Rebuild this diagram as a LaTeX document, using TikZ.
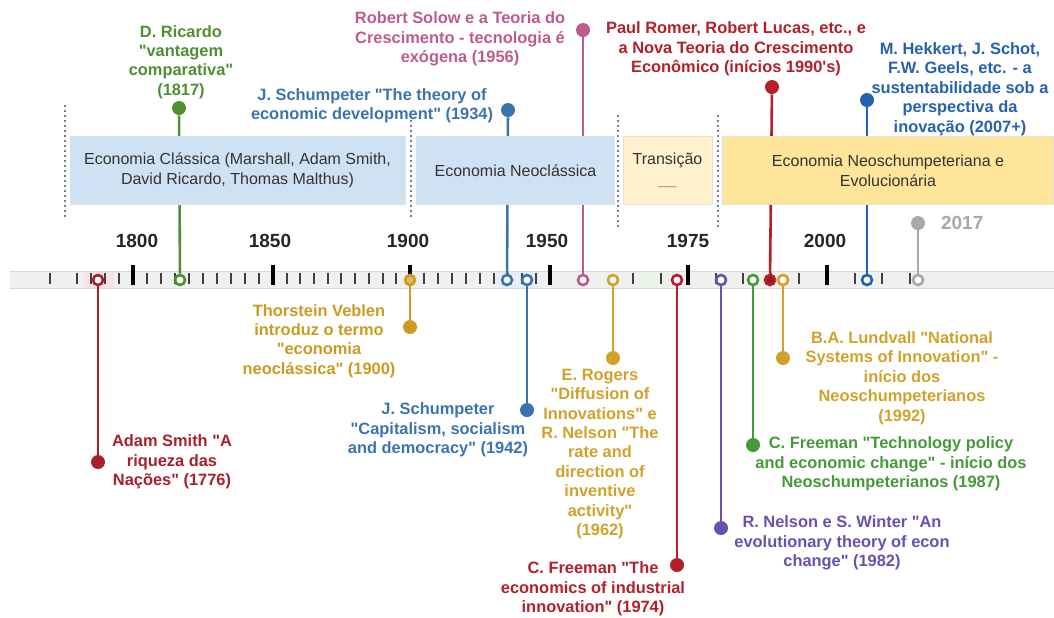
\documentclass[tikz,border=0pt]{standalone}
\usepackage{fontspec}
\setmainfont{Liberation Sans}[Ligatures=TeXOff]
\definecolor{ricardo}{HTML}{4F8F32}
\definecolor{schump}{HTML}{3B73B0}
\definecolor{solow}{HTML}{BF5A8F}
\definecolor{romer}{HTML}{B3202A}
\definecolor{hekkert}{HTML}{2462AE}
\definecolor{later}{HTML}{A8A8A8}
\definecolor{smith}{HTML}{A8202A}
\definecolor{veblen}{HTML}{CC9A1E}
\definecolor{rogers}{HTML}{D1A12A}
\definecolor{nelson}{HTML}{6A4FB0}
\definecolor{freeman}{HTML}{46993A}
\definecolor{boxblue}{HTML}{CFE2F3}
\definecolor{boxcream}{HTML}{FFF2CC}
\definecolor{boxyellow}{HTML}{FFE59A}
\definecolor{slate}{HTML}{6F7F96}
\tikzset{
  evt/.style={font=\fontsize{8.2}{9.7}\selectfont\bfseries, align=center, text=#1, inner sep=0pt},
  pin/.style={circle, fill=#1, inner sep=0pt, minimum size=7pt},
  ring/.style={circle, draw=#1, fill=white, line width=1.3pt, inner sep=0pt, minimum size=5pt},
  stem/.style={draw=#1, line width=1.3pt},
  era/.style={fill=#1, draw=black!12, line width=0.4pt, inner sep=0pt, align=center,
    minimum height=34pt, font=\fontsize{8}{10}\selectfont, text=black!80},
  yearlbl/.style={font=\fontsize{9.5}{11}\selectfont\bfseries, text=black!85},
  divider/.style={draw=slate, line width=0.9pt, dash pattern=on 1pt off 1.5pt},
  minortick/.style={draw=black!75, line width=1pt},
  majortick/.style={draw=black, line width=1.6pt},
}
\begin{document}
\begin{tikzpicture}[x=0.5pt, y=-0.5pt]
  \useasboundingbox (0,0) rectangle (1054,617);
  % axis band
  \fill[black!6] (10,271) rectangle (1054,288);
  \fill[smith!12] (84,271) rectangle (114,288);
  \fill[schump!12] (494,271) rectangle (538,288);
  \fill[freeman!12] (638,271) rectangle (668,288);
  \draw[black!15, line width=0.5pt] (10,271) -- (1054,271) (10,288) -- (1054,288);
  \foreach \x in {50,77,91,105,119,147,161,175,189,203,217,231,245,259,
                  287,300,314,328,341,355,369,383,396,424,438,452,466,480,494,508,522,536,
                  633,661,716,743,771,799,855,882,910}
    \draw[minortick] (\x,273) -- (\x,284);
  \foreach \x in {133,273,410,550,688,827}
    \draw[majortick] (\x,265) -- (\x,285);
  % years
  \node[yearlbl] (y1800) at (137,241) {1800};
  \node[yearlbl] (y1850) at (270,241) {1850};
  \node[yearlbl] (y1900) at (408,241) {1900};
  \node[yearlbl] (y1950) at (547,241) {1950};
  \node[yearlbl] (y1975) at (688,241) {1975};
  \node[yearlbl] (y2000) at (825,241) {2000};
  % markers on the axis and pin heads
  \node[ring=smith] (smithRing) at (98,280) {};
  \node[ring=ricardo] (ricardoRing) at (180,280) {};
  \node[ring=veblen, fill=veblen!70] (veblenRing) at (410,280) {};
  \node[ring=schump] (schumpARing) at (507,280) {};
  \node[ring=schump] (schumpBRing) at (527,280) {};
  \node[ring=solow] (solowRing) at (583,280) {};
  \node[ring=rogers] (rogersRing) at (613,280) {};
  \node[ring=romer] (freemanARing) at (677,280) {};
  \node[ring=nelson] (nelsonRing) at (721,280) {};
  \node[ring=freeman] (freemanBRing) at (753,280) {};
  \node[ring=romer, fill=romer!85!black] (romerRing) at (770,280) {};
  \node[ring=rogers] (lundvallRing) at (783,280) {};
  \node[ring=hekkert] (hekkertRing) at (867,280) {};
  \node[ring=later] (laterRing) at (918,280) {};
  \node[pin=smith] (smithPin) at (98,462) {};
  \node[pin=ricardo] (ricardoPin) at (179,108) {};
  \node[pin=veblen] (veblenPin) at (410,327) {};
  \node[pin=schump] (schumpAPin) at (508,110) {};
  \node[pin=schump] (schumpBPin) at (527,410) {};
  \node[pin=solow] (solowPin) at (583,30) {};
  \node[pin=rogers] (rogersPin) at (613,358) {};
  \node[pin=romer] (freemanAPin) at (677,565) {};
  \node[pin=nelson] (nelsonPin) at (721,528) {};
  \node[pin=freeman] (freemanBPin) at (753,445) {};
  \node[pin=romer] (romerPin) at (772,87) {};
  \node[pin=rogers] (lundvallPin) at (783,358) {};
  \node[pin=hekkert] (hekkertPin) at (867,100) {};
  \node[pin=later] (laterPin) at (918,223) {};
  \begin{scope}
    \draw[stem=smith] (smithRing) to (smithPin);
    \draw[stem=ricardo] (ricardoRing) to (ricardoPin);
    \draw[stem=veblen] (veblenRing) to (veblenPin);
    \draw[stem=schump] (schumpARing) to (schumpAPin);
    \draw[stem=schump] (schumpBRing) to (schumpBPin);
    \draw[stem=solow] (solowRing) to (solowPin);
    \draw[stem=rogers] (rogersRing) to (rogersPin);
    \draw[stem=romer] (freemanARing) to (freemanAPin);
    \draw[stem=nelson] (nelsonRing) to (nelsonPin);
    \draw[stem=freeman] (freemanBRing) to (freemanBPin);
    \draw[stem=romer] (romerRing) to (romerPin);
    \draw[stem=rogers] (lundvallRing) to (lundvallPin);
    \draw[stem=hekkert] (hekkertRing) to (hekkertPin);
    \draw[stem=later] (laterRing) to (laterPin);
  \end{scope}
  % periods
  \node[era=boxblue, minimum width=167.5pt] (classica) at (237.5,170.5)
    {Economia Clássica (Marshall, Adam Smith,\\David Ricardo, Thomas Malthus)};
  \node[era=boxblue, minimum width=99pt] (neoclassica) at (515.5,170.5) {Economia Neoclássica};
  \node[era=boxcream, minimum width=44.5pt] (transicao) at (667.5,170.5)
    {Transição\\{\color{black!40}\_\_}};
  \node[era=boxyellow, minimum width=165.5pt] (neoschump) at (888,170.5)
    {Economia Neoschumpeteriana e\\Evolucionária};
  \draw[divider] (65,105) -- (65,218);
  \draw[divider] (411,120) -- (411,218);
  \draw[divider] (618,115) -- (618,228);
  \draw[divider] (718,115) -- (718,228);
  % labels
  \node[evt=ricardo] (ricardoText) at (181,62) {D. Ricardo\\"vantagem\\comparativa"\\(1817)};
  \node[evt=schump] (schumpAText) at (372,106) {J. Schumpeter "The theory of\\economic development" (1934)};
  \node[evt=solow] (solowText) at (460,39) {Robert Solow e a Teoria do\\Crescimento - tecnologia é\\exógena (1956)};
  \node[evt=romer] (romerText) at (736,49) {Paul Romer, Robert Lucas, etc., e\\a Nova Teoria do Crescimento\\Econômico (inícios 1990's)};
  \node[evt=hekkert] (hekkertText) at (960,89) {M. Hekkert, J. Schot,\\F.W. Geels, etc. - a\\sustentabilidade sob a\\perspectiva da\\inovação (2007+)};
  \node[yearlbl, text=later, anchor=west] (laterText) at (934,223) {2017};
  \node[evt=smith] (smithText) at (172,462) {Adam Smith "A\\riqueza das\\Nações" (1776)};
  \node[evt=veblen] (veblenText) at (319,341) {Thorstein Veblen\\introduz o termo\\"economia\\neoclássica" (1900)};
  \node[evt=schump] (schumpBText) at (438,430) {J. Schumpeter\\"Capitalism, socialism\\and democracy" (1942)};
  \node[evt=rogers] (rogersText) at (600,454) {E. Rogers\\"Diffusion of\\Innovations" e\\R. Nelson "The\\rate and\\direction of\\inventive\\activity"\\(1962)};
  \node[evt=romer] (freemanAText) at (593,589) {C. Freeman "The\\economics of industrial\\innovation" (1974)};
  \node[evt=nelson] (nelsonText) at (842,543) {R. Nelson e S. Winter "An\\evolutionary theory of econ\\change" (1982)};
  \node[evt=freeman] (freemanBText) at (891,464) {C. Freeman "Technology policy\\and economic change" - início dos\\Neoschumpeterianos (1987)};
  \node[evt=rogers] (lundvallText) at (902,378) {B.A. Lundvall "National\\Systems of Innovation" -\\início dos\\Neoschumpeterianos\\(1992)};
\end{tikzpicture}
\end{document}
